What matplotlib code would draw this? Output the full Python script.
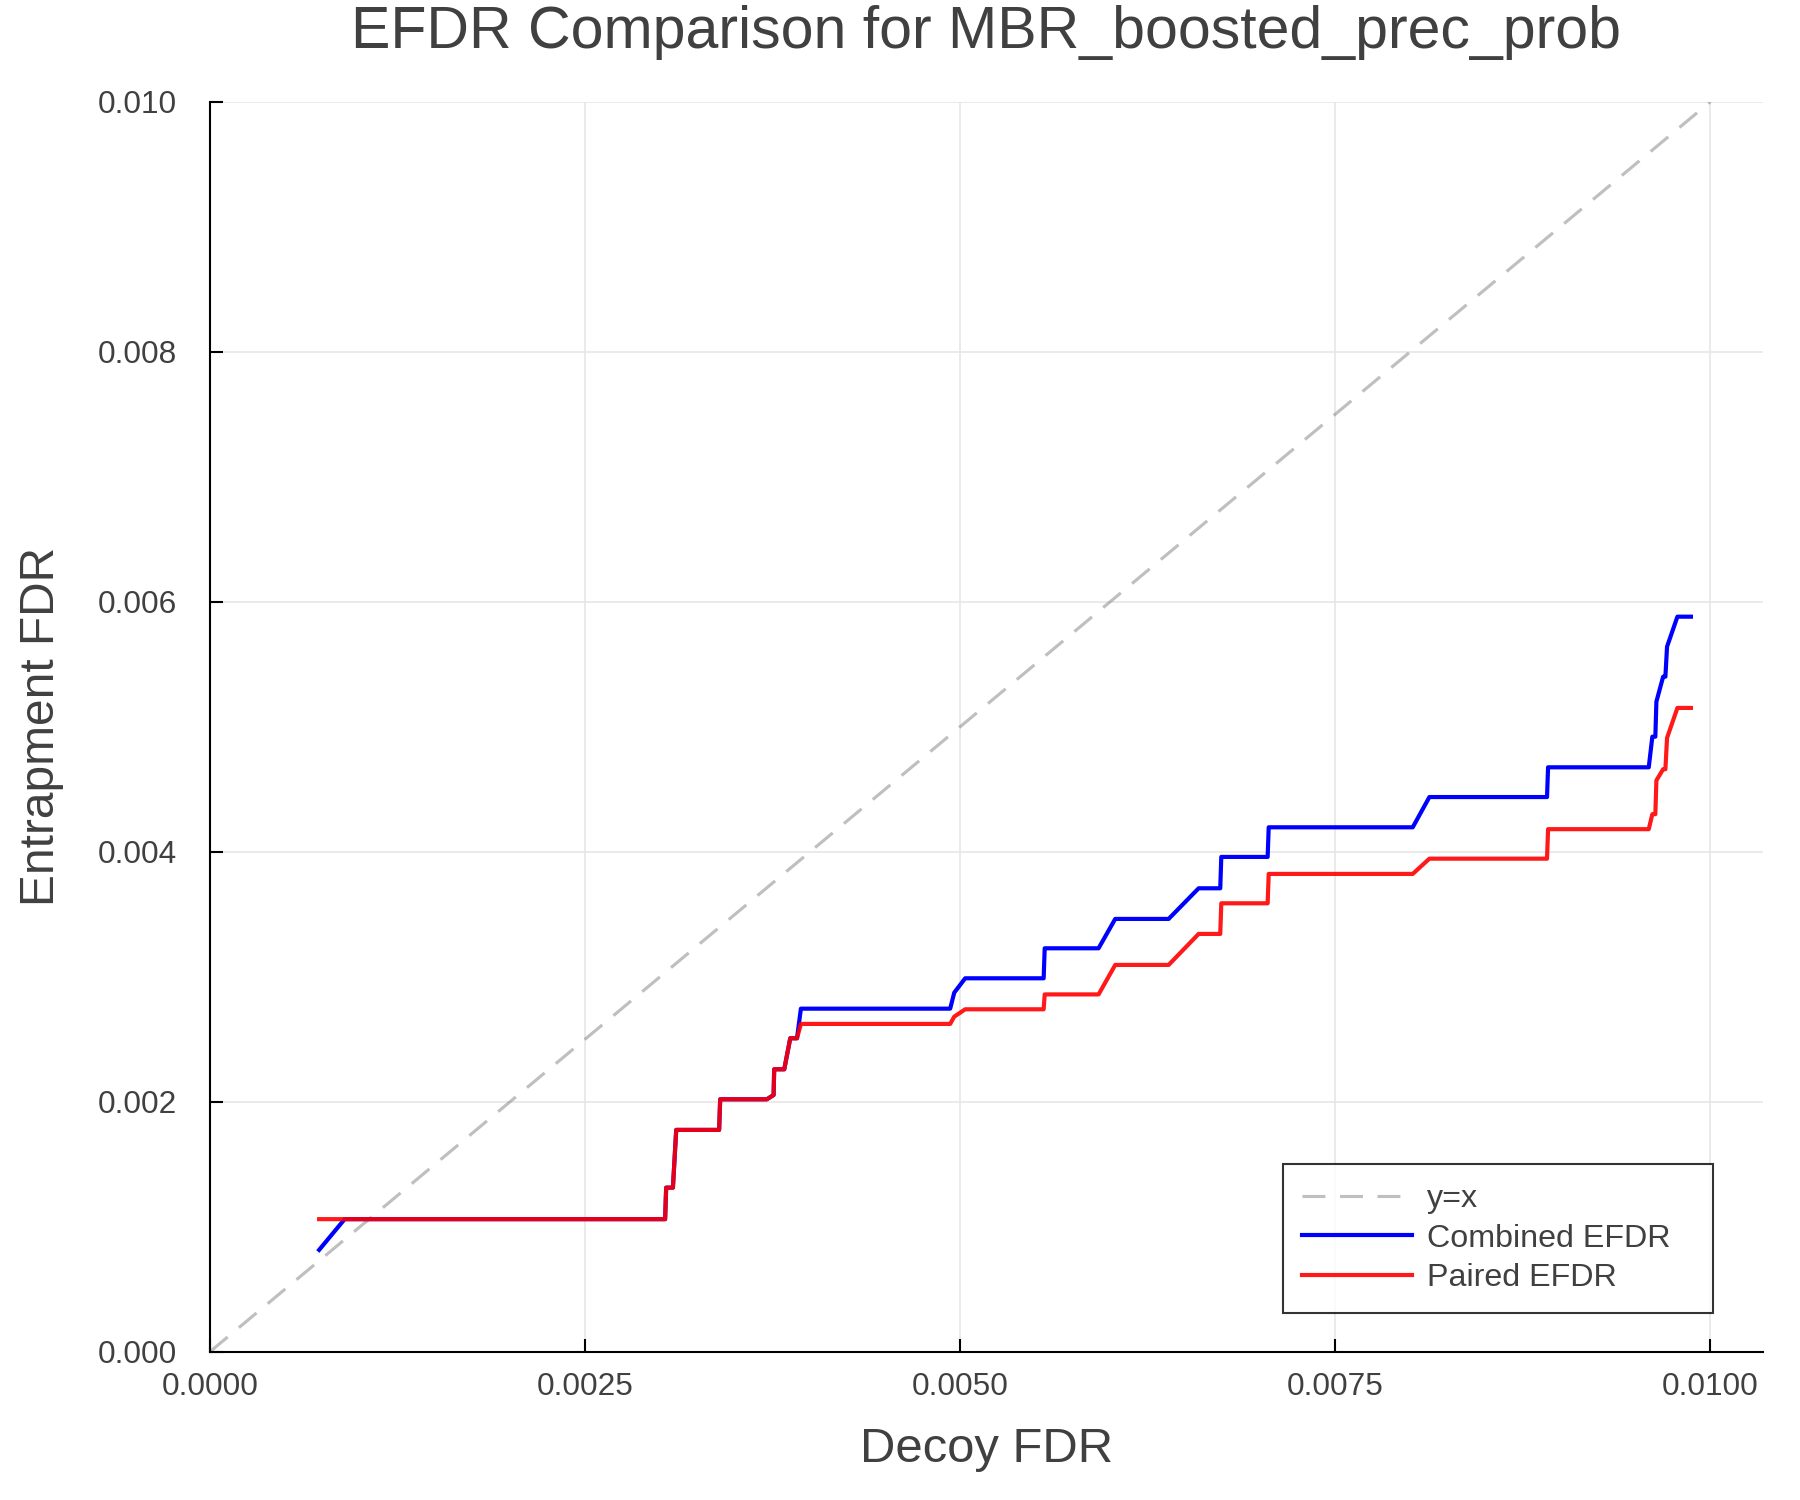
import numpy as np
import matplotlib
matplotlib.use("Agg")
import matplotlib.pyplot as plt

# values (step curves, vertex by vertex)
combined_x = [0.000727, 0.000897, 0.003033, 0.003040, 0.003085, 0.003107, 0.003393,
              0.003400, 0.003711, 0.003756, 0.003760, 0.003827, 0.003867, 0.003912,
              0.003938, 0.004933, 0.004960, 0.005033, 0.005556, 0.005563, 0.005922,
              0.006033, 0.006389, 0.006589, 0.006733, 0.006740, 0.007049, 0.007056,
              0.008016, 0.008127, 0.008911, 0.008918, 0.009589, 0.009613, 0.009633,
              0.009640, 0.009685, 0.009700, 0.009711, 0.009780, 0.009870]
combined_y = [0.000814, 0.001060, 0.001060, 0.001312, 0.001312, 0.001774, 0.001774,
              0.002019, 0.002019, 0.002053, 0.002259, 0.002259, 0.002507, 0.002507,
              0.002744, 0.002744, 0.002872, 0.002987, 0.002987, 0.003227, 0.003227,
              0.003462, 0.003462, 0.003707, 0.003707, 0.003958, 0.003958, 0.004195,
              0.004195, 0.004437, 0.004437, 0.004675, 0.004675, 0.004920, 0.004920,
              0.005200, 0.005400, 0.005400, 0.005640, 0.005880, 0.005880]

paired_x = [0.000727, 0.003033, 0.003040, 0.003085, 0.003107, 0.003393, 0.003400,
            0.003711, 0.003756, 0.003760, 0.003827, 0.003867, 0.003912, 0.003938,
            0.004933, 0.004960, 0.005033, 0.005556, 0.005563, 0.005922, 0.006033,
            0.006389, 0.006589, 0.006733, 0.006740, 0.007049, 0.007056, 0.008016,
            0.008127, 0.008911, 0.008918, 0.009589, 0.009613, 0.009633, 0.009640,
            0.009685, 0.009700, 0.009711, 0.009780, 0.009870]
paired_y = [0.001060, 0.001060, 0.001312, 0.001312, 0.001774, 0.001774, 0.002019,
            0.002019, 0.002053, 0.002259, 0.002259, 0.002507, 0.002507, 0.002622,
            0.002622, 0.002680, 0.002739, 0.002739, 0.002858, 0.002858, 0.003094,
            0.003094, 0.003342, 0.003342, 0.003587, 0.003587, 0.003822, 0.003822,
            0.003944, 0.003944, 0.004180, 0.004180, 0.004300, 0.004300, 0.004570,
            0.004660, 0.004660, 0.004910, 0.005150, 0.005150]

diag = [0.0, 0.010]
x_ticks = [0.0, 0.0025, 0.0050, 0.0075, 0.0100]
y_ticks = [0.0, 0.002, 0.004, 0.006, 0.008, 0.010]

text_col = "#404040"
plt.rcParams['font.family'] = ['Liberation Sans', 'DejaVu Sans']
plt.rcParams['lines.scale_dashes'] = False

fig = plt.figure(figsize=(12, 10), dpi=150)
ax = fig.add_axes([0.1167, 0.0989, 0.8627, 0.8333])

ax.plot(diag, diag, color="gray", alpha=0.5, lw=1.5, dashes=(11, 7), label="y=x")
ax.plot(combined_x, combined_y, color="blue", lw=2.0, label="Combined EFDR")
ax.plot(paired_x, paired_y, color="red", lw=2.0, alpha=0.9, label="Paired EFDR")

ax.set_xlim(0, 0.01035)
ax.set_ylim(0, 0.010)
ax.set_xticks(x_ticks)
ax.set_xticklabels([f"{v:.4f}" for v in x_ticks])
ax.set_yticks(y_ticks)
ax.set_yticklabels([f"{v:.3f}" for v in y_ticks])

ax.grid(True, color="#e6e6e6", lw=0.8)
ax.set_axisbelow(True)
for s in ["top", "right"]:
    ax.spines[s].set_visible(False)
for s in ["left", "bottom"]:
    ax.spines[s].set_linewidth(1.0)
    ax.spines[s].set_color("black")
ax.tick_params(direction="in", length=6.3, width=1.0, labelsize=15.2,
               labelcolor=text_col)
ax.tick_params(axis="y", pad=16)
ax.tick_params(axis="x", pad=10)

ax.set_xlabel("Decoy FDR", fontsize=23.5, color=text_col, labelpad=12)
ax.set_ylabel("Entrapment FDR", fontsize=23, color=text_col, labelpad=16)
fig.text(0.548, 0.978, "EFDR Comparison for MBR_boosted_prec_prob", fontsize=28.3,
         color=text_col, ha="center", va="center")

leg = ax.legend(loc="center", bbox_to_anchor=(0.691, 0.030, 0.277, 0.121),
                mode="expand", fontsize=15.5, frameon=True, fancybox=False,
                handlelength=3.4, handletextpad=0.45, labelspacing=0.3,
                borderpad=0.6, borderaxespad=0)
leg.get_frame().set_edgecolor("black")
leg.get_frame().set_linewidth(1.0)
for t in leg.get_texts():
    t.set_color(text_col)

fig.savefig("out.png", dpi=150)
